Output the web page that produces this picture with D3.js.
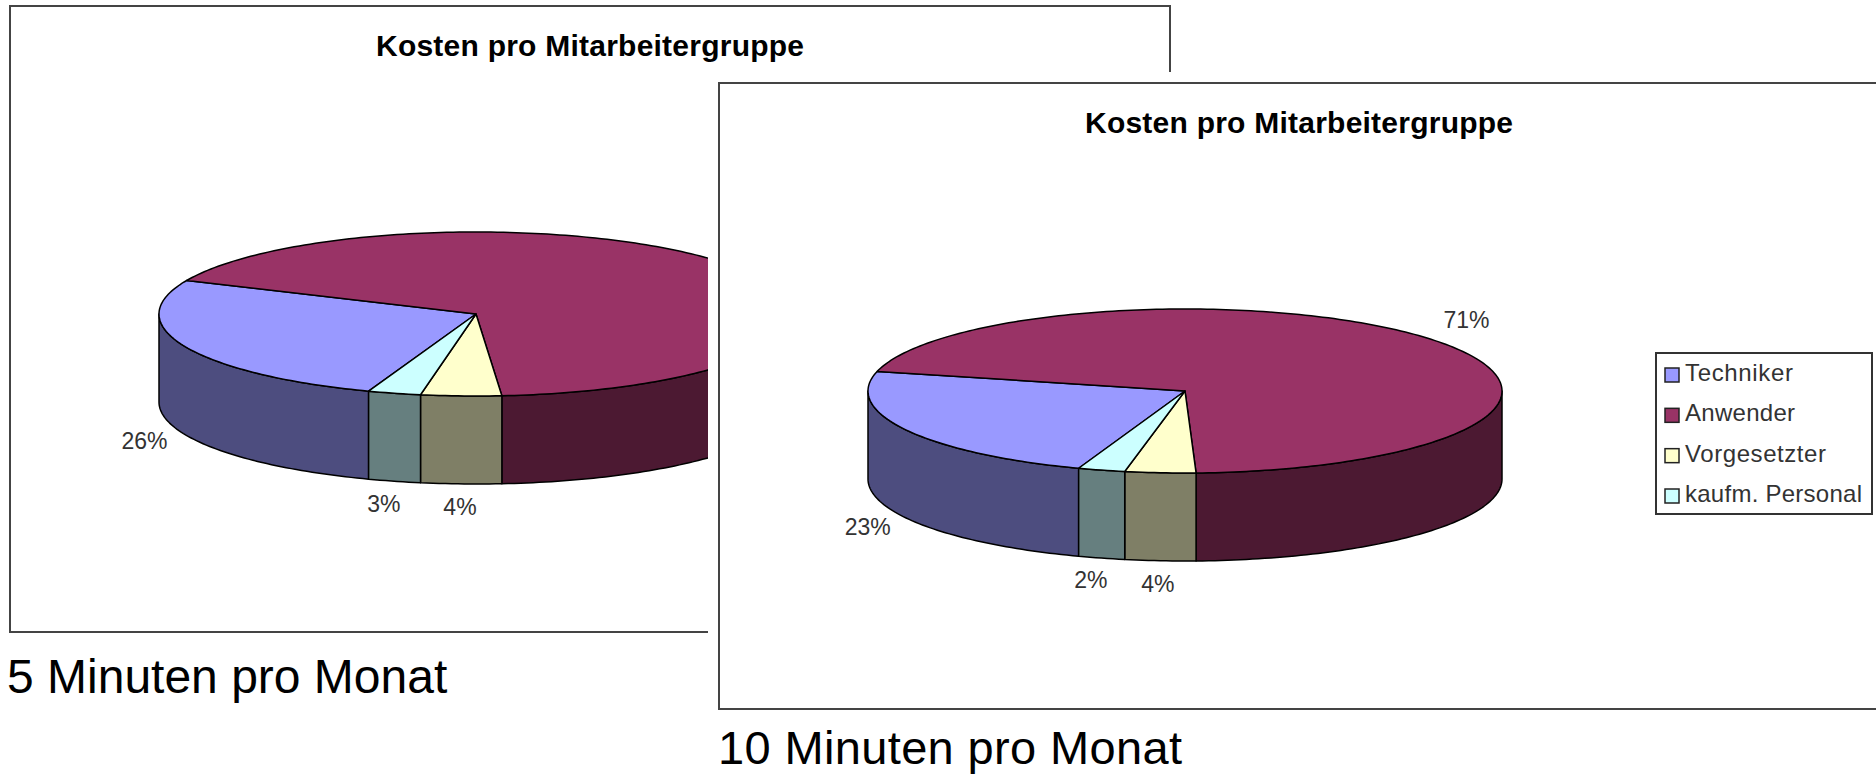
<!DOCTYPE html>
<html>
<head>
<meta charset="utf-8">
<script src="https://cdn.jsdelivr.net/npm/d3@7"></script>
<style>
    html, body { margin: 0; padding: 0; background: #fff; overflow: hidden; }
    svg { display: block; }
    text { font-family: "Liberation Sans", Arial, sans-serif; }
    .chartTitle { font-weight: bold; font-size: 30px; fill: #000; text-anchor: middle; }
    .pctLabel { font-size: 23px; fill: #333; text-anchor: middle; }
    .legendLabel { font-size: 24px; fill: #333; }
    .caption { fill: #000; }
</style>
</head>
<body>
<div id="chart"></div>
<script>
'use strict';

const groups = ['Techniker', 'Anwender', 'Vorgesetzter', 'kaufm. Personal'];
const values5 = [26.2, 67, 4.1, 2.7];
const values10 = [23.4, 70.6, 3.6, 2.4];
const topColors = ['#9999ff', '#993366', '#ffffcc', '#ccffff'];
const sideColors = ['#4d4d7f', '#4c1932', '#7f7f66', '#667f7f'];
const titleText = 'Kosten pro Mitarbeitergruppe';
const caption5 = '5 Minuten pro Monat';
const caption10 = '10 Minuten pro Monat';
const legendWidths = [108, 110, 141, 177];

/*
Pie3D
 */
class Pie3D {

    // Configs
    frameW = 1160;
    frameH = 626;
    cx = 466;
    cy = 308;
    rx = 317;
    ry = 82;
    depth = 88;

    // Tools
    xScale = d3.scaleLinear().domain([-1, 1]);
    yScale = d3.scaleLinear().domain([-1, 1]);
    lineMaker = d3.line();

    constructor(_values, _target, _firstAngle, _visibleW, _showLegend) {
        this.values = _values;
        this.g = _target;
        this.firstAngle = _firstAngle * Math.PI / 180;
        this.visibleW = _visibleW;
        this.showLegend = _showLegend;
        this.wrangle();
    }

    wrangle() {
        const vis = this;

        vis.xScale.range([vis.cx - vis.rx, vis.cx + vis.rx]);
        vis.yScale.range([vis.cy - vis.ry, vis.cy + vis.ry]);

        // Clockwise from the top, like the spreadsheet does it
        const pie = d3.pie()
            .sort(null)
            .startAngle(vis.firstAngle)
            .endAngle(vis.firstAngle + 2 * Math.PI);
        vis.slices = pie(vis.values).map((d, i) => {
            const mid = (d.startAngle + d.endAngle) / 2;
            const front = Math.cos(mid) < 0 ? vis.depth : 0;
            return {
                ...d,
                i: i,
                pct: Math.round(d.value) + '%',
                labelX: vis.cx + 1 + vis.rx * 1.14 * Math.sin(mid),
                labelY: vis.cy - vis.ry * 1.32 * Math.cos(mid) + front + 5
            };
        });

        vis.render();
    }

    // Point on the rim for an angle, optionally on the bottom of the disc
    rim(a, drop) {
        return [this.xScale(Math.sin(a)), this.yScale(-Math.cos(a)) + (drop || 0)];
    }

    // Side wall of a slice, only the part facing the viewer
    wallPath(d) {
        const vis = this;
        const parts = [];
        [0, 2 * Math.PI].forEach(turn => {
            const a0 = Math.max(d.startAngle, Math.PI / 2 + turn);
            const a1 = Math.min(d.endAngle, 3 * Math.PI / 2 + turn);
            if (a1 <= a0) return;
            const n = Math.ceil((a1 - a0) / 0.02);
            const angles = d3.range(n + 1).map(k => a0 + (a1 - a0) * k / n);
            const pts = angles.map(a => vis.rim(a))
                .concat(angles.slice().reverse().map(a => vis.rim(a, vis.depth)));
            parts.push(vis.lineMaker(pts) + 'Z');
        });
        return parts.join('');
    }

    // Top face of a slice
    topPath(d) {
        const vis = this;
        const n = Math.ceil((d.endAngle - d.startAngle) / 0.02);
        const pts = d3.range(n + 1).map(k => vis.rim(d.startAngle + (d.endAngle - d.startAngle) * k / n));
        pts.unshift([vis.xScale(0), vis.yScale(0)]);
        return vis.lineMaker(pts) + 'Z';
    }

    render() {
        const vis = this;

        // Frame
        vis.g.append('rect')
            .attr('width', vis.frameW)
            .attr('height', vis.frameH)
            .attr('fill', '#fff')
            .attr('stroke', '#444')
            .attr('stroke-width', 2);

        // Title
        vis.g.append('text')
            .attr('class', 'chartTitle')
            .attr('x', vis.frameW / 2)
            .attr('y', 50)
            .attr('textLength', 428)
            .attr('lengthAdjust', 'spacing')
            .text(titleText);

        // Walls first, then tops
        vis.g.append('g').selectAll('path')
            .data(vis.slices)
            .join('path')
            .attr('d', d => vis.wallPath(d))
            .attr('fill', d => sideColors[d.i])
            .attr('stroke', '#000')
            .attr('stroke-width', 1.5)
            .attr('stroke-linejoin', 'round');

        vis.g.append('g').selectAll('path')
            .data(vis.slices)
            .join('path')
            .attr('d', d => vis.topPath(d))
            .attr('fill', d => topColors[d.i])
            .attr('stroke', '#000')
            .attr('stroke-width', 1.5)
            .attr('stroke-linejoin', 'round');

        // Percent labels sit just outside the rim, skip what the other chart hides
        vis.g.append('g').selectAll('text')
            .data(vis.slices.filter(d => d.labelX < vis.visibleW))
            .join('text')
            .attr('class', 'pctLabel')
            .attr('x', d => d.labelX)
            .attr('y', d => d.labelY)
            .text(d => d.pct);

        if (vis.showLegend) vis.renderLegend();
    }

    renderLegend() {
        const vis = this;
        const legendG = vis.g.append('g')
            .attr('transform', 'translate(937, 270)');
        legendG.append('rect')
            .attr('width', 216)
            .attr('height', 161)
            .attr('fill', '#fff')
            .attr('stroke', '#333')
            .attr('stroke-width', 2);

        const rowScale = d3.scalePoint()
            .domain(groups)
            .range([22, 143]);

        const rows = legendG.selectAll('.row')
            .data(groups)
            .join('g')
            .attr('class', 'row')
            .attr('transform', d => `translate(0, ${rowScale(d)})`);
        rows.append('rect')
            .attr('x', 9)
            .attr('y', -7)
            .attr('width', 14)
            .attr('height', 14)
            .attr('fill', (d, i) => topColors[i])
            .attr('stroke', '#222')
            .attr('stroke-width', 1.5);
        rows.append('text')
            .attr('class', 'legendLabel')
            .attr('x', 29)
            .attr('y', 6)
            .attr('textLength', (d, i) => legendWidths[i])
            .attr('lengthAdjust', 'spacing')
            .text(d => d);
    }
}

// Page
const pageW = 1876;
const pageH = 774;
const svg = d3.select('#chart')
    .append('svg')
    .attr('width', pageW)
    .attr('height', pageH);

const chart5G = svg.append('g').attr('transform', 'translate(10, 6)');
new Pie3D(values5, chart5G, 199.8, 698, false);

// White cut-out pasted over the first chart
svg.append('rect')
    .attr('x', 708)
    .attr('y', 72)
    .attr('width', pageW - 708)
    .attr('height', pageH - 72)
    .attr('fill', '#fff');

const chart10G = svg.append('g').attr('transform', 'translate(719, 83)');
new Pie3D(values10, chart10G, 199.6, 1160, true);

svg.append('text')
    .attr('class', 'caption')
    .attr('x', 7)
    .attr('y', 693)
    .attr('font-size', 48)
    .text(caption5);
svg.append('text')
    .attr('class', 'caption')
    .attr('x', 718)
    .attr('y', 763.5)
    .attr('font-size', 47)
    .attr('textLength', 464)
    .attr('lengthAdjust', 'spacing')
    .text(caption10);
</script>
</body>
</html>
